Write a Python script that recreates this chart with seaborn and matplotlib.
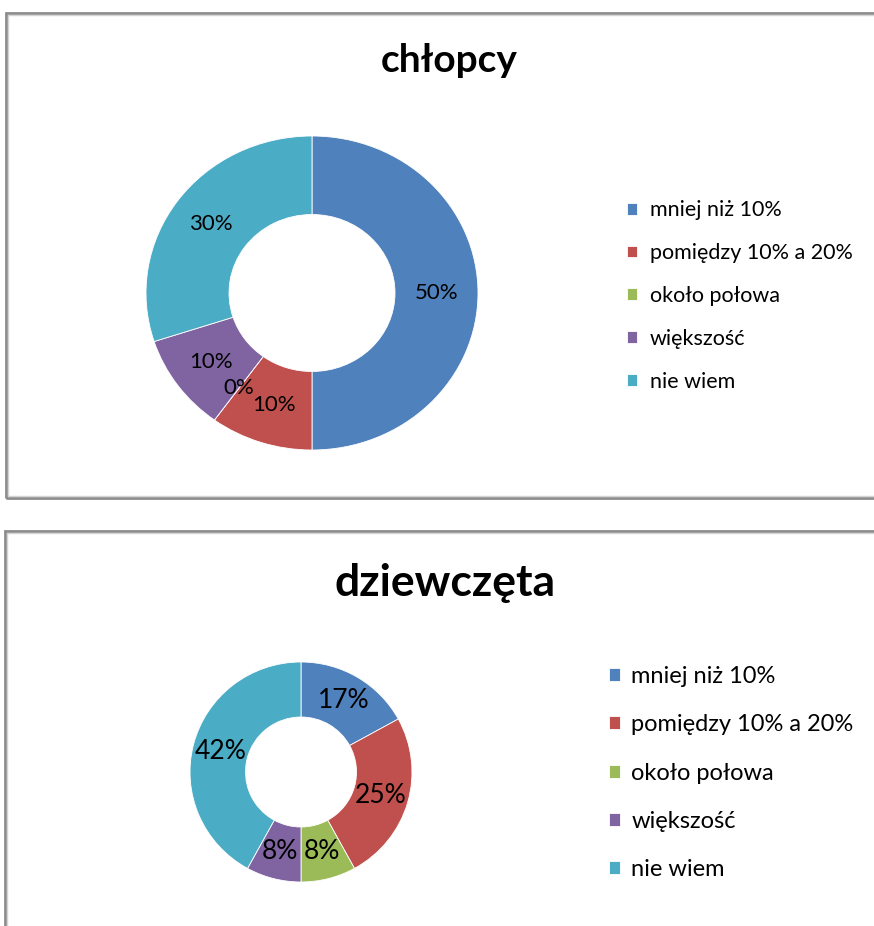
#Importing packages
import matplotlib.pyplot as plt
import seaborn as sns
from matplotlib.patches import Rectangle

#chart data
categories = ['mniej niż 10%', 'pomiędzy 10% a 20%', 'około połowa', 'większość', 'nie wiem']
chlopcy = [50, 10, 0, 10, 30]
dziewczeta = [17, 25, 8, 8, 42]
titles = ['chłopcy', 'dziewczęta']

#setting theme, then fonts (set_theme resets font.family)
sns.set_theme(style='white')
plt.rcParams['font.family'] = ['Lato', 'DejaVu Sans']
plt.rcParams['text.color'] = 'black'
colors = sns.color_palette(['#4F81BD', '#C0504D', '#9BBB59', '#8064A2', '#4BACC6'])

W, H = 874, 926
fig = plt.figure(figsize=(W / 100, H / 100), dpi=100)

#grey chart frames (right / bottom edges run off the picture)
for x0, y_top, y_bot in [(6, 13, 498), (5, 531, 940)]:
    for lw, col, off in [(2.0, '#8c8c8c', 0), (1.0, '#d4d4d4', 1.5)]:
        fig.patches.append(Rectangle(((x0 + off) / W, 1 - (y_bot - off) / H),
                                     (W + 40) / W, (y_bot - y_top - 2 * off) / H,
                                     transform=fig.transFigure, fill=False,
                                     edgecolor=col, linewidth=lw, zorder=0))


def donut(values, title, cx, cy, rx, ry, title_xy, title_size, pct_size,
          leg_xy, leg_size, leg_space, handle, pad):
    ax = fig.add_axes([(cx - rx) / W, 1 - (cy + ry) / H, 2 * rx / W, 2 * ry / H])
    wedges, texts, autotexts = ax.pie(values, colors=colors, startangle=90, counterclock=False,
                                      radius=1, autopct='%.0f%%', pctdistance=0.75,
                                      wedgeprops=dict(width=0.5, edgecolor='white', linewidth=0.6),
                                      textprops=dict(fontsize=pct_size, color='black'))
    #Excel draws the ring slightly squashed, so drop the equal aspect
    ax.set_aspect('auto')
    ax.set_xlim(-1, 1)
    ax.set_ylim(-1, 1)
    ax.axis('off')
    #title
    fig.text(title_xy[0] / W, 1 - title_xy[1] / H, title, fontsize=title_size,
             fontweight='bold', ha='center', va='center')
    #legend
    fig.legend(wedges, categories, loc='center left',
               bbox_to_anchor=(leg_xy[0] / W, 1 - leg_xy[1] / H),
               frameon=False, fontsize=leg_size, borderpad=0, borderaxespad=0,
               handlelength=handle, handleheight=handle, handletextpad=pad,
               labelspacing=leg_space)


donut(chlopcy, titles[0], 312, 293, 166, 157, (449, 60), 28, 16,
      (627, 296), 15.5, 1.06, 0.47, 0.6)
donut(dziewczeta, titles[1], 301, 772, 111, 110, (445, 583), 32, 19,
      (609, 773), 17, 1.16, 0.47, 0.47)

#saving plot
plt.savefig('out.png', dpi=100)
